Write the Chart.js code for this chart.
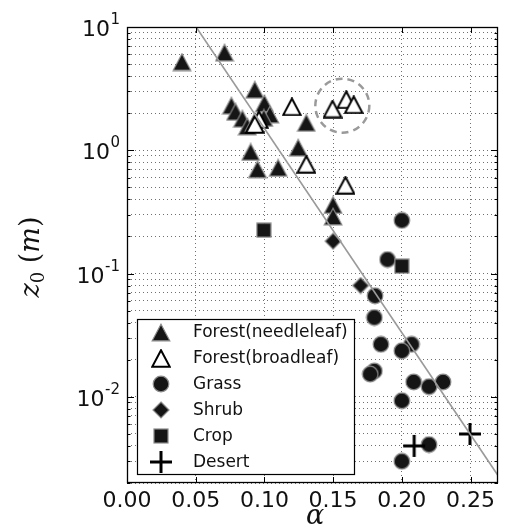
<!DOCTYPE html>
<html>
<head>
<meta charset="utf-8">
<script src="https://cdn.jsdelivr.net/npm/chart.js@4.4.1/dist/chart.umd.min.js"></script>
<style>
  html, body { margin: 0; padding: 0; background: #fff; }
  #wrap { width: 508px; height: 526px; }
</style>
</head>
<body>
<div id="wrap"><canvas id="chart" width="508" height="526"></canvas></div>
<script>
// roughness length z0 vs. power-law exponent alpha, per land cover class

const seriesNames = ['Forest(needleleaf)', 'Forest(broadleaf)', 'Grass', 'Shrub', 'Crop', 'Desert'];

const needleAlpha = [0.040, 0.071, 0.093, 0.076, 0.079, 0.084, 0.100, 0.104, 0.0876, 0.0924, 0.0996, 0.1305, 0.090, 0.1246, 0.095, 0.110, 0.150, 0.150];
const needleZ0    = [5.2,   6.2,   3.1,   2.3,   2.05,  1.8,   2.4,   1.95,  1.56,   1.67,   1.83,   1.67,   0.97,  1.05,   0.70,  0.72,  0.36,  0.29];

const broadAlpha = [0.096, 0.093, 0.120, 0.1305, 0.1496, 0.1596, 0.165, 0.159];
const broadZ0    = [1.77,  1.62,  2.25,  0.77,   2.16,   2.57,   2.34,  0.52];

const grassAlpha = [0.200, 0.1896, 0.1805, 0.180, 0.1848, 0.2071, 0.200,  0.180,  0.177,  0.2086, 0.2198, 0.230,  0.200,  0.2198, 0.200];
const grassZ0    = [0.27,  0.13,   0.066,  0.044, 0.0267, 0.0267, 0.0236, 0.0162, 0.0153, 0.0132, 0.0121, 0.0132, 0.0093, 0.0041, 0.0030];

const shrubAlpha = [0.150, 0.170];
const shrubZ0    = [0.183, 0.080];

const cropAlpha = [0.0996, 0.200];
const cropZ0    = [0.225,  0.115];

const desertAlpha = [0.209, 0.2496];
const desertZ0    = [0.0040, 0.0050];

// fitted line, end points
const fitAlpha = [0.0503, 0.27];
const fitZ0    = [10, 0.0023];

// dashed ring round the broadleaf group
const ringAlpha = 0.1567;
const ringZ0 = 2.3;

const xTicks = [0, 0.05, 0.10, 0.15, 0.20, 0.25];
const xTickLabels = ['0.00', '0.05', '0.10', '0.15', '0.20', '0.25'];
const yTicks = [0.01, 0.1, 1, 10];
const yTickExp = ['-2', '-1', '0', '1'];

// minor grid: 2..9 in every decade
const yGrid = [];
[0.001, 0.01, 0.1, 1].forEach(d => {
  for (let m = 1; m <= 9; m++) {
    const v = +(m * d).toPrecision(3);
    if (v >= 0.002 && v <= 10) yGrid.push(v);
  }
});
yGrid.push(10);

const DARK = '#151515';
const EDGE = '#8a8a8a';

function makeMarker(kind) {
  const c = document.createElement('canvas');
  const g = c.getContext('2d');
  if (kind === 'tri' || kind === 'openTri') {
    c.width = 20; c.height = 19;
    g.beginPath();
    g.moveTo(10, 1.2); g.lineTo(18.8, 17.8); g.lineTo(1.2, 17.8); g.closePath();
    g.fillStyle = kind === 'tri' ? DARK : '#fff';
    g.fill();
    g.lineWidth = kind === 'tri' ? 1.2 : 2;
    g.strokeStyle = kind === 'tri' ? EDGE : '#000';
    g.stroke();
  } else if (kind === 'circle') {
    c.width = 18; c.height = 18;
    g.beginPath(); g.arc(9, 9, 7.8, 0, Math.PI * 2);
    g.fillStyle = DARK; g.fill();
    g.lineWidth = 1.2; g.strokeStyle = EDGE; g.stroke();
  } else if (kind === 'diamond') {
    c.width = 18; c.height = 18;
    g.beginPath();
    g.moveTo(9, 1); g.lineTo(17, 9); g.lineTo(9, 17); g.lineTo(1, 9); g.closePath();
    g.fillStyle = DARK; g.fill();
    g.lineWidth = 1.2; g.strokeStyle = EDGE; g.stroke();
  } else if (kind === 'square') {
    c.width = 16; c.height = 16;
    g.fillStyle = DARK; g.fillRect(1, 1, 14, 14);
    g.lineWidth = 1.2; g.strokeStyle = EDGE; g.strokeRect(1, 1, 14, 14);
  } else if (kind === 'cross') {
    c.width = 24; c.height = 24;
    g.strokeStyle = '#000'; g.lineWidth = 3;
    g.beginPath();
    g.moveTo(1, 12); g.lineTo(23, 12);
    g.moveTo(12, 1); g.lineTo(12, 23);
    g.stroke();
  }
  return c;
}

const markers = ['tri', 'openTri', 'circle', 'diamond', 'square', 'cross'].map(makeMarker);

function series(i, xs, ys, order) {
  return {
    label: seriesNames[i],
    data: xs.map((x, k) => ({ x: x, y: ys[k] })),
    pointStyle: markers[i],
    pointRadius: 9,
    pointHoverRadius: 9,
    order: order
  };
}

const datasets = [
  series(0, needleAlpha, needleZ0, 7),
  series(1, broadAlpha, broadZ0, 6),
  series(2, grassAlpha, grassZ0, 5),
  series(3, shrubAlpha, shrubZ0, 4),
  series(4, cropAlpha, cropZ0, 3),
  series(5, desertAlpha, desertZ0, 2),
  {
    label: 'fit',
    data: fitAlpha.map((x, k) => ({ x: x, y: fitZ0[k] })),
    showLine: true,
    borderColor: '#9a9a9a',
    borderWidth: 1.6,
    pointRadius: 0,
    order: 1
  }
];

const extras = {
  id: 'extras',
  afterDraw(chart) {
    const ctx = chart.ctx;
    const a = chart.chartArea;
    const xs = chart.scales.x, ys = chart.scales.y;
    ctx.save();

    // ring
    ctx.beginPath();
    ctx.arc(xs.getPixelForValue(ringAlpha), ys.getPixelForValue(ringZ0), 27, 0, Math.PI * 2);
    ctx.setLineDash([7, 5]);
    ctx.lineWidth = 2.5;
    ctx.strokeStyle = '#9a9a9a';
    ctx.stroke();
    ctx.setLineDash([]);

    // frame and inward ticks
    ctx.strokeStyle = '#000';
    ctx.lineWidth = 1;
    ctx.beginPath();
    xTicks.forEach(v => {
      const px = Math.round(xs.getPixelForValue(v)) + 0.5;
      ctx.moveTo(px, a.bottom); ctx.lineTo(px, a.bottom - 6);
      ctx.moveTo(px, a.top); ctx.lineTo(px, a.top + 6);
    });
    yGrid.forEach(v => {
      const py = Math.round(ys.getPixelForValue(v)) + 0.5;
      const len = yTicks.includes(v) ? 7 : 3.5;
      ctx.moveTo(a.left, py); ctx.lineTo(a.left + len, py);
      ctx.moveTo(a.right, py); ctx.lineTo(a.right - len, py);
    });
    ctx.stroke();
    ctx.lineWidth = 1.3;
    ctx.strokeRect(a.left + 0.5, a.top + 0.5, a.right - a.left - 1, a.bottom - a.top - 1);

    // tick labels
    ctx.fillStyle = '#111';
    ctx.font = '22px "DejaVu Sans"';
    ctx.textAlign = 'center';
    ctx.textBaseline = 'alphabetic';
    xTicks.forEach((v, i) => {
      ctx.fillText(xTickLabels[i], xs.getPixelForValue(v), 507);
    });
    ctx.textAlign = 'right';
    yTicks.forEach((v, i) => {
      const py = ys.getPixelForValue(v);
      ctx.font = '15px "DejaVu Sans"';
      const sw = ctx.measureText(yTickExp[i]).width;
      ctx.fillText(yTickExp[i], 120, py - 3);
      ctx.font = '22px "DejaVu Sans"';
      ctx.fillText('10', 120 - sw - 0.5, py + 9);
    });

    // axis titles
    ctx.textAlign = 'center';
    ctx.font = 'italic 27px "DejaVu Serif"';
    ctx.fillText('\u03b1', 315, 524);

    ctx.save();
    ctx.translate(39, 257);
    ctx.rotate(-Math.PI / 2);
    ctx.textAlign = 'left';
    const parts = [
      ['z', 'italic 27px "DejaVu Serif"', 0],
      ['0', '18px "DejaVu Serif"', 5],
      [' (', '27px "DejaVu Serif"', 0],
      ['m', 'italic 27px "DejaVu Serif"', 0],
      [')', '27px "DejaVu Serif"', 0]
    ];
    let total = 0;
    parts.forEach(p => { ctx.font = p[1]; total += ctx.measureText(p[0]).width; });
    let cx = -total / 2;
    parts.forEach(p => {
      ctx.font = p[1];
      ctx.fillText(p[0], cx, p[2]);
      cx += ctx.measureText(p[0]).width;
    });
    ctx.restore();

    // legend
    const lx = 137, ly = 319, lw = 217, lh = 155;
    ctx.fillStyle = '#fff';
    ctx.fillRect(lx, ly, lw, lh);
    ctx.lineWidth = 1.2;
    ctx.strokeStyle = '#000';
    ctx.strokeRect(lx + 0.5, ly + 0.5, lw, lh);
    ctx.fillStyle = '#111';
    ctx.font = '17px "DejaVu Sans"';
    ctx.textAlign = 'left';
    ctx.textBaseline = 'middle';
    seriesNames.forEach((name, i) => {
      const ry = 332 + i * 26;
      const m = markers[i];
      ctx.drawImage(m, Math.round(161 - m.width / 2), Math.round(ry - m.height / 2));
      ctx.fillText(name, 193, ry + 1);
    });
    ctx.restore();
  }
};

const gridStyle = { color: '#707070', lineWidth: 1, drawTicks: false };

new Chart(document.getElementById('chart').getContext('2d'), {
  type: 'scatter',
  data: { datasets: datasets },
  options: {
    responsive: false,
    animation: false,
    events: [],
    layout: { padding: { left: 0, top: 27, right: 3, bottom: 0 } },
    plugins: { legend: { display: false }, tooltip: { enabled: false } },
    scales: {
      x: {
        type: 'linear',
        min: 0,
        max: 0.27,
        ticks: { display: false },
        grid: gridStyle,
        border: { display: false, dash: [1, 3] },
        afterBuildTicks: s => { s.ticks = xTicks.map(v => ({ value: v })); },
        afterFit: s => { s.height = 43; }
      },
      y: {
        type: 'logarithmic',
        min: 0.002,
        max: 10,
        ticks: { display: false },
        grid: gridStyle,
        border: { display: false, dash: [1, 3] },
        afterBuildTicks: s => { s.ticks = yGrid.map(v => ({ value: v })); },
        afterFit: s => { s.width = 127; }
      }
    }
  },
  plugins: [extras]
});
</script>
</body>
</html>
